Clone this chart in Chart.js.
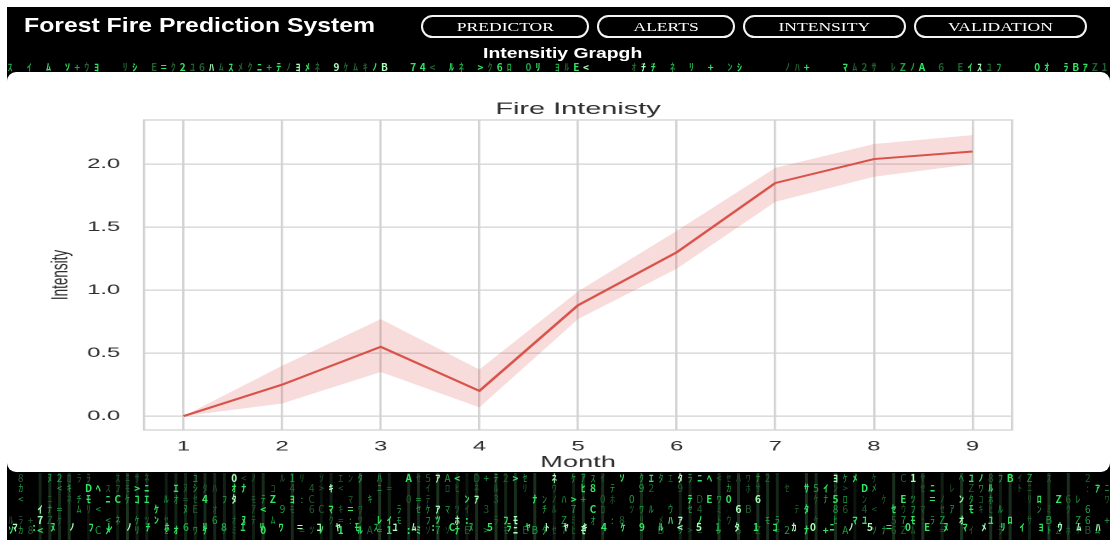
<!DOCTYPE html>
<html>
<head>
<meta charset="utf-8">
<title>Forest Fire Prediction System</title>
<script src="https://cdn.jsdelivr.net/npm/chart.js@4.4.1/dist/chart.umd.min.js"></script>
<style>
  html, body { margin: 0; padding: 0; width: 1112px; height: 540px; overflow: hidden; background: #fff; }
  #screen { position: absolute; left: 7px; top: 7px; width: 1103px; height: 533px; background: #000; overflow: hidden; }
  #rain { position: absolute; left: 0; top: 0; }
  .brand { position: absolute; left: 24px; top: 12px; color: #fff; white-space: nowrap;
           font: bold 21px "Liberation Sans", Arial, sans-serif; line-height: 26px;
           transform: scaleX(1.18); transform-origin: 0 0; }
  .nav { position: absolute; top: 15px; height: 23px; box-sizing: border-box; border: 2px solid #f4f4f4;
         border-radius: 12px; color: #fff; display: flex; align-items: center; justify-content: center;
         font: 13.5px "Liberation Serif", "Times New Roman", serif; }
  .nav span { display: inline-block; transform: scaleX(1.3); }
  .sub { position: absolute; top: 43px; left: 463px; width: 200px; text-align: center; color: #fff;
         font: bold 15px "Liberation Sans", Arial, sans-serif; line-height: 20px; }
  .sub span { display: inline-block; transform: scaleX(1.29); }
  #card { position: absolute; left: 7px; top: 72px; width: 1103px; height: 400px; background: #fff; border-radius: 9px; }
  #plot { position: absolute; left: 30px; top: 90px; width: 600px; height: 382px; transform: scaleX(1.7); transform-origin: 0 0; }
  #plot canvas { display: block; }
</style>
</head>
<body>
<div id="screen"><canvas id="rain" width="1103" height="533"></canvas></div>
<div class="brand">Forest Fire Prediction System</div>
<div class="nav" style="left:421px;width:168px"><span>PREDICTOR</span></div>
<div class="nav" style="left:597px;width:138px"><span>ALERTS</span></div>
<div class="nav" style="left:743px;width:163px"><span>INTENSITY</span></div>
<div class="nav" style="left:914px;width:173px"><span>VALIDATION</span></div>
<div class="sub"><span>Intensitiy Grapgh</span></div>
<div id="card"></div>
<div id="plot"><canvas id="chart" width="600" height="382" style="width:600px;height:382px"></canvas></div>

<script>
// Monthly fire intensity: mean line with its confidence band
const months = [1, 2, 3, 4, 5, 6, 7, 8, 9];
const intensity = [0.00, 0.25, 0.55, 0.20, 0.88, 1.30, 1.85, 2.04, 2.10];
const ciUpper   = [0.00, 0.40, 0.77, 0.37, 0.99, 1.47, 1.97, 2.16, 2.23];
const ciLower   = [0.00, 0.10, 0.35, 0.07, 0.77, 1.17, 1.70, 1.90, 2.00];
const yTickValues = [0.0, 0.5, 1.0, 1.5, 2.0];

// ---- matrix-style code rain behind the page ----
(function drawRain() {
  const c = document.getElementById('rain');
  const r = c.getContext('2d');
  const W = c.width, H = c.height;
  const glyphs = 'ｱｲｳｴｵｶｷｸｹｺｻｼｽｾｿﾀﾁﾂﾃﾄﾅﾆﾇﾈﾉﾊﾋﾌﾍﾎﾏﾐﾑﾒﾓﾔﾕﾖﾗﾘﾙﾚﾛﾜﾝ0123456789ABCDEZ:=+<>';
  const h = n => { const s = Math.sin(n * 12.9898 + 78.233) * 43758.5453; return s - Math.floor(s); };
  r.fillStyle = '#000';
  r.fillRect(0, 0, W, H);
  r.textAlign = 'center';
  r.textBaseline = 'middle';
  const green = (a) => {
    if (a > 0.85) return 'rgb(170,255,185)';
    if (a > 0.6) return 'rgb(50,230,100)';
    if (a > 0.35) return 'rgb(30,160,70)';
    return 'rgb(35,95,50)';
  };
  // strip under the header
  r.font = 'bold 10px "Noto Sans CJK JP", "DejaVu Sans Mono", monospace';
  for (let i = 0, x = 3; x < W; x += 9.6, i++) {
    const v = h(i * 3.7 + 1);
    if (v < 0.3) continue;
    r.fillStyle = green(h(i * 5.1 + 2) * 0.9);
    r.fillText(glyphs[Math.floor(h(i * 9.3) * glyphs.length)], x, 60);
  }
  // columns of falling glyphs below the card
  for (let col = 0, x = 4; x < W; x += 9.7, col++) {
    const streak = h(col * 1.71);
    if (streak > 0.4) {
      r.fillStyle = 'rgba(70,130,80,' + (0.15 + 0.25 * h(col * 2.3)).toFixed(2) + ')';
      r.fillRect(x - 1.5, 466, 3, 67);
    }
    for (let y = 471, row = 0; y < H; y += 10.5, row++) {
      const v = h(col * 31.7 + row * 7.13);
      if (v < 0.4) continue;
      const bright = h(col * 7.3 + row * 1.9) * (streak > 0.6 ? 1 : 0.75);
      r.fillStyle = green(bright);
      r.font = (bright > 0.6 ? 'bold ' : '') + '10px "Noto Sans CJK JP", "DejaVu Sans Mono", monospace';
      r.fillText(glyphs[Math.floor(h(col * 4.1 + row * 13.7) * glyphs.length)], x, y);
    }
  }
  // brighter row near the bottom edge
  r.font = 'bold 10px "Noto Sans CJK JP", "DejaVu Sans Mono", monospace';
  for (let i = 0, x = 8; x < W; x += 19, i++) {
    r.fillStyle = green(0.55 + 0.45 * h(i * 2.9 + 5));
    r.fillText(glyphs[Math.floor(h(i * 6.7 + 3) * glyphs.length)], x, 520);
  }
})();

// ---- chart ----
const lineColor = 'rgb(216, 82, 74)';
const bandColor = 'rgba(216, 82, 74, 0.2)';
const gridColor = '#d2d2d2';
const textColor = '#2e2e2e';
const family = '"Liberation Sans", Arial, Helvetica, sans-serif';
const toPoints = arr => months.map((m, i) => ({ x: m, y: arr[i] }));

const framePlugin = {
  id: 'frame',
  beforeDatasetsDraw(chart) {
    const { ctx, chartArea: a } = chart;
    ctx.save();
    ctx.strokeStyle = gridColor;
    ctx.lineWidth = 1.3;
    ctx.strokeRect(a.left, a.top, a.right - a.left, a.bottom - a.top);
    ctx.restore();
  }
};

new Chart(document.getElementById('chart'), {
  type: 'line',
  data: {
    datasets: [
      { label: 'Intensity', data: toPoints(intensity), borderColor: lineColor, borderWidth: 1.9,
        pointRadius: 0, fill: false, tension: 0 },
      { label: 'upper', data: toPoints(ciUpper), borderWidth: 0, borderColor: 'transparent',
        pointRadius: 0, fill: false },
      { label: 'lower', data: toPoints(ciLower), borderWidth: 0, borderColor: 'transparent',
        backgroundColor: bandColor, pointRadius: 0, fill: '-1' }
    ]
  },
  options: {
    responsive: false,
    devicePixelRatio: 2,
    animation: false,
    layout: { padding: { left: 0, right: 22.35, top: 0, bottom: 0 } },
    plugins: {
      legend: { display: false },
      tooltip: { enabled: false },
      filler: { drawTime: 'beforeDatasetsDraw' },
      title: {
        display: true, text: 'Fire Intenisty', fullSize: false, color: textColor,
        font: { family, size: 17, weight: 'normal' }, padding: { top: 9.3, bottom: 0.3 }
      }
    },
    scales: {
      x: {
        type: 'linear', min: 0.6, max: 9.4,
        afterBuildTicks: s => { s.ticks = months.map(v => ({ value: v })); },
        afterFit: s => { s.height = 42; },
        grid: { color: gridColor, lineWidth: 1.3, drawTicks: false },
        border: { display: false },
        ticks: { padding: 8, color: textColor, font: { family, size: 14 }, callback: v => String(v) },
        title: { display: true, text: 'Month', color: textColor, font: { family, size: 16 }, padding: 0 }
      },
      y: {
        min: -0.11, max: 2.35,
        afterBuildTicks: s => { s.ticks = yTickValues.map(v => ({ value: v })); },
        afterFit: s => { s.width = 67.06; },
        grid: { color: gridColor, lineWidth: 1.3, drawTicks: false },
        border: { display: false },
        ticks: { padding: 14, color: textColor, font: { family, size: 14 }, callback: v => v.toFixed(1) },
        title: { display: true, text: 'Intensity', color: textColor, font: { family, size: 13.5 },
                 padding: { top: 10.1, bottom: 0 } }
      }
    }
  },
  plugins: [framePlugin]
});
</script>
</body>
</html>
